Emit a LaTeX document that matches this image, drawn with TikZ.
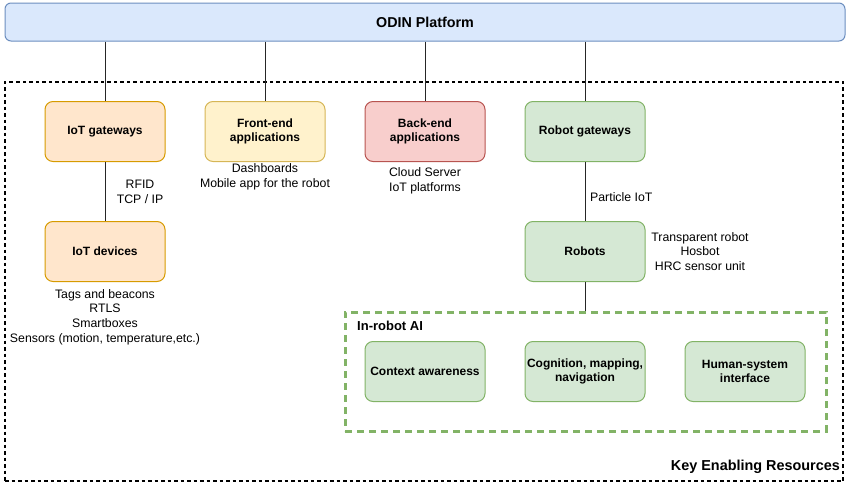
\documentclass[tikz,border=0pt]{standalone}
\usepackage{fontspec}
\setmainfont{Liberation Sans}
\definecolor{orF}{HTML}{FFE6CC}\definecolor{orD}{HTML}{D79B00}
\definecolor{yeF}{HTML}{FFF2CC}\definecolor{yeD}{HTML}{D6B656}
\definecolor{reF}{HTML}{F8CECC}\definecolor{reD}{HTML}{B85450}
\definecolor{grF}{HTML}{D5E8D4}\definecolor{grD}{HTML}{82B366}
\definecolor{blF}{HTML}{DAE8FC}\definecolor{blD}{HTML}{6C8EBF}
\tikzset{
  box/.style={draw, line width=1pt, rounded corners=8pt, minimum width=120pt, minimum height=60pt,
    align=center, font=\fontsize{12}{14.5}\selectfont\bfseries, inner sep=2pt},
  orbox/.style={box, fill=orF, draw=orD},
  yebox/.style={box, fill=yeF, draw=yeD},
  rebox/.style={box, fill=reF, draw=reD},
  grbox/.style={box, fill=grF, draw=grD},
  lbl/.style={align=center, font=\fontsize{12.3}{14.7}\selectfont, inner sep=0pt},
  conn/.style={draw=black!85, line width=1pt},
}
\begin{document}
\begin{tikzpicture}[x=1pt,y=-1pt]
\useasboundingbox (0,0) rectangle (847,482);
\node[draw=blD, fill=blF, line width=1pt, rounded corners=6pt, minimum width=840pt, minimum height=38pt,
  font=\fontsize{14.3}{16}\selectfont\bfseries] (plat) at (425,22) {ODIN Platform};
\node[draw=black, line width=1.5pt, dash pattern=on 3.5pt off 3pt, minimum width=838pt, minimum height=399pt, inner sep=0pt] (ker) at (424,281.5) {};
\node[anchor=east, font=\fontsize{14.4}{16}\selectfont\bfseries, inner sep=0pt] (kerl) at (840,467) {Key Enabling Resources};

\node[orbox] (iotgw) at (105,131.5) {IoT gateways};
\node[yebox] (front) at (265,131.5) {Front-end\\applications};
\node[rebox] (back) at (425,131.5) {Back-end\\applications};
\node[grbox] (robgw) at (585,131.5) {Robot gateways};
\node[orbox] (iotdev) at (105,251.5) {IoT devices};
\node[grbox] (robots) at (585,251.5) {Robots};

\node[draw=grD, line width=3pt, dash pattern=on 7pt off 5pt, minimum width=481pt, minimum height=119pt, inner sep=0pt] (ai) at (585.5,371.5) {};
\node[anchor=west, font=\fontsize{13}{15}\selectfont\bfseries, inner sep=0pt] (ail) at (357,326) {In-robot AI};
\node[grbox] (ctx) at (425,371.5) {Context awareness};
\node[grbox] (cog) at (585,371.5) {Cognition, mapping,\\navigation};
\node[grbox] (hsi) at (745,371.5) {Human-system\\interface};

\foreach \n in {iotgw,front,back,robgw}{\draw[conn] (plat.south -| \n.north) -- (\n.north);}
\draw[conn] (iotgw) -- (iotdev);
\draw[conn] (robgw) -- (robots);
\draw[conn] (robots.south) -- (ai.north -| robots.south);

\node[lbl] (l1) at (140,191.5) {RFID\\TCP / IP};
\node[lbl] (l2) at (265,177) {Dashboards\\Mobile app for the robot};
\node[lbl] (l3) at (425,181) {Cloud Server\\IoT platforms};
\node[lbl, anchor=west] (l4) at (590,197) {Particle IoT};
\node[lbl] (l5) at (700,251.5) {Transparent robot\\Hosbot\\HRC sensor unit};
\node[lbl] (l6) at (105,317) {Tags and beacons\\RTLS\\Smartboxes\\Sensors (motion, temperature,etc.)};
\end{tikzpicture}
\end{document}
